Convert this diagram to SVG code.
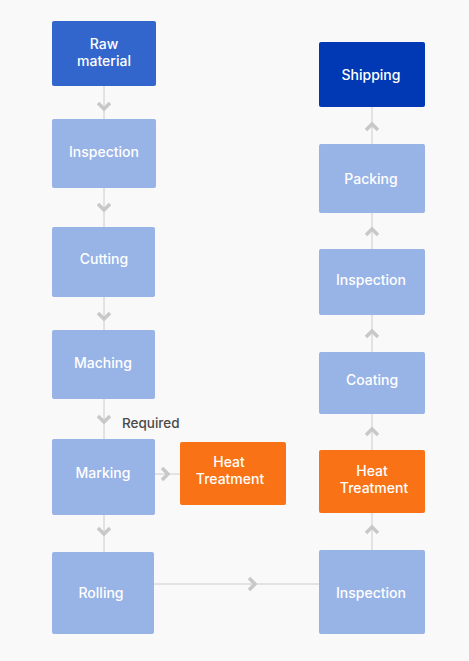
<svg xmlns="http://www.w3.org/2000/svg" width="469" height="661" viewBox="0 0 469 661">
  <style>
    .bg { fill: #f9f9f9; }
    .n { fill: #98b3e6; }
    .raw { fill: #3366cc; }
    .ship { fill: #0039b3; }
    .heat { fill: #f97316; }
    .t { font-family: Inter, "Noto Sans", "Liberation Sans", sans-serif; font-size: 14px; font-weight: 500; fill: #ffffff; text-anchor: middle; }
    .lbl { font-family: Inter, "Noto Sans", "Liberation Sans", sans-serif; font-size: 13.5px; font-weight: 500; fill: #4a4a4a; }
    .ln { stroke: #cccccc; stroke-width: 1; fill: none; }
    .ch { stroke: #c8c8c8; stroke-width: 3.5; fill: none; stroke-linejoin: miter; }
  </style>
  <rect class="bg" x="0" y="0" width="469" height="661"/>

  <g id="connectors">
    <line class="ln" x1="104" y1="86" x2="104" y2="552"/>
    <line class="ln" x1="372" y1="107" x2="372" y2="550"/>
    <line class="ln" x1="155" y1="474" x2="180" y2="474"/>
    <line class="ln" x1="154" y1="584" x2="319" y2="584"/>
    <polyline class="ch" points="98,103 104,109 110,103"/>
    <polyline class="ch" points="98,204 104,210 110,204"/>
    <polyline class="ch" points="98,313 104,319 110,313"/>
    <polyline class="ch" points="98,416 104,422 110,416"/>
    <polyline class="ch" points="98,528 104,534 110,528"/>
    <polyline class="ch" points="162,468 168,474 162,480"/>
    <polyline class="ch" points="249,578 255,584 249,590"/>
    <polyline class="ch" points="366,130 372,124 378,130"/>
    <polyline class="ch" points="366,235 372,229 378,235"/>
    <polyline class="ch" points="366,337 372,331 378,337"/>
    <polyline class="ch" points="366,435 372,429 378,435"/>
    <polyline class="ch" points="366,533 372,527 378,533"/>
    <text class="lbl" x="122" y="428">Required</text>
  </g>

  <g id="raw-material">
    <rect class="raw" x="52" y="21" width="104" height="65" rx="2"/>
    <text class="t" x="104" y="49">Raw</text>
    <text class="t" x="104" y="66">material</text>
  </g>
  <g id="inspection-1">
    <rect class="n" x="52" y="119" width="104" height="69" rx="2"/>
    <text class="t" x="104" y="157">Inspection</text>
  </g>
  <g id="cutting">
    <rect class="n" x="52" y="227" width="103" height="70" rx="2"/>
    <text class="t" x="104" y="264">Cutting</text>
  </g>
  <g id="maching">
    <rect class="n" x="52" y="330" width="103" height="69" rx="2"/>
    <text class="t" x="103" y="368">Maching</text>
  </g>
  <g id="marking">
    <rect class="n" x="52" y="439" width="103" height="76" rx="2"/>
    <text class="t" x="103" y="478">Marking</text>
  </g>
  <g id="heat-treatment-1">
    <rect class="heat" x="180" y="442" width="106" height="63" rx="2"/>
    <text class="t" x="229" y="467">Heat</text>
    <text class="t" x="230" y="484">Treatment</text>
  </g>
  <g id="rolling">
    <rect class="n" x="52" y="552" width="102" height="82" rx="2"/>
    <text class="t" x="101" y="598">Rolling</text>
  </g>
  <g id="inspection-3">
    <rect class="n" x="319" y="550" width="106" height="84" rx="2"/>
    <text class="t" x="371" y="598">Inspection</text>
  </g>
  <g id="heat-treatment-2">
    <rect class="heat" x="319" y="450" width="106" height="63" rx="2"/>
    <text class="t" x="372" y="476">Heat</text>
    <text class="t" x="374" y="493">Treatment</text>
  </g>
  <g id="coating">
    <rect class="n" x="319" y="352" width="106" height="62" rx="2"/>
    <text class="t" x="372" y="385">Coating</text>
  </g>
  <g id="inspection-2">
    <rect class="n" x="319" y="249" width="106" height="66" rx="2"/>
    <text class="t" x="371" y="285">Inspection</text>
  </g>
  <g id="packing">
    <rect class="n" x="319" y="144" width="106" height="69" rx="2"/>
    <text class="t" x="371" y="184">Packing</text>
  </g>
  <g id="shipping">
    <rect class="ship" x="319" y="42" width="106" height="65" rx="2"/>
    <text class="t" x="371" y="80">Shipping</text>
  </g>
</svg>
